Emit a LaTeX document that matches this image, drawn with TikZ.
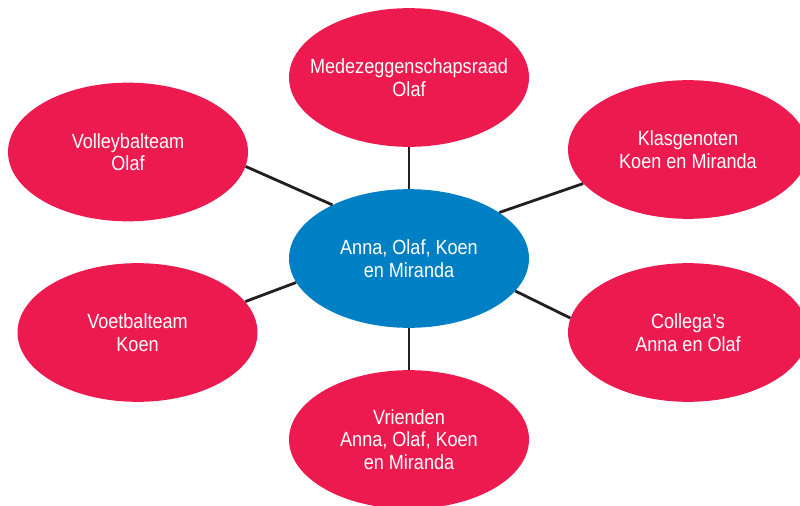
\documentclass[tikz,border=0pt]{standalone}
\usepackage{fontspec}
\setmainfont{Liberation Sans}[FakeStretch=0.88]
\usetikzlibrary{shapes.geometric}
\definecolor{groeprood}{HTML}{EC1A4F}
\definecolor{kernblauw}{HTML}{0080C4}
\definecolor{lijnzwart}{HTML}{231F20}
\begin{document}
\begin{tikzpicture}[x=0.75pt,y=-0.75pt,
        groep/.style={ellipse,fill=groeprood,text=white,align=center,
                      inner xsep=-40pt,inner ysep=0pt,
                      minimum width=180pt,minimum height=104pt,
                      font=\fontsize{15.4}{17}\selectfont},
        kern/.style={groep,fill=kernblauw},
        band/.style={draw=lijnzwart,line width=2.1pt}]
        \useasboundingbox (0,0) rectangle (800,506);
        \node[kern]  (midden)  at (409,258.5) {Anna, Olaf, Koen\\en Miranda};
        \node[groep] (mr)      at (409,77.5)  {Medezeggenschapsraad\\Olaf};
        \node[groep] (volley)  at (128,152)   {Volleybalteam\\Olaf};
        \node[groep] (klas)    at (688,149.5) {Klasgenoten\\Koen en Miranda};
        \node[groep] (voetbal) at (137.5,332.5) {Voetbalteam\\Koen};
        \node[groep] (werk)    at (688,332.5) {Collega’s\\Anna en Olaf};
        \node[groep] (vrienden) at (409,439.5) {Vrienden\\Anna, Olaf, Koen\\en Miranda};
        \draw[band] (midden.90)  -- (mr.-90);
        \draw[band] (midden.145) -- (volley.-7);
        \draw[band] (midden.27.6) -- (klas.198);
        \draw[band] (midden.192) -- (voetbal.16);
        \draw[band] (midden.-17) -- (werk.173);
        \draw[band] (midden.-90) -- (vrienden.90);
\end{tikzpicture}
\end{document}
